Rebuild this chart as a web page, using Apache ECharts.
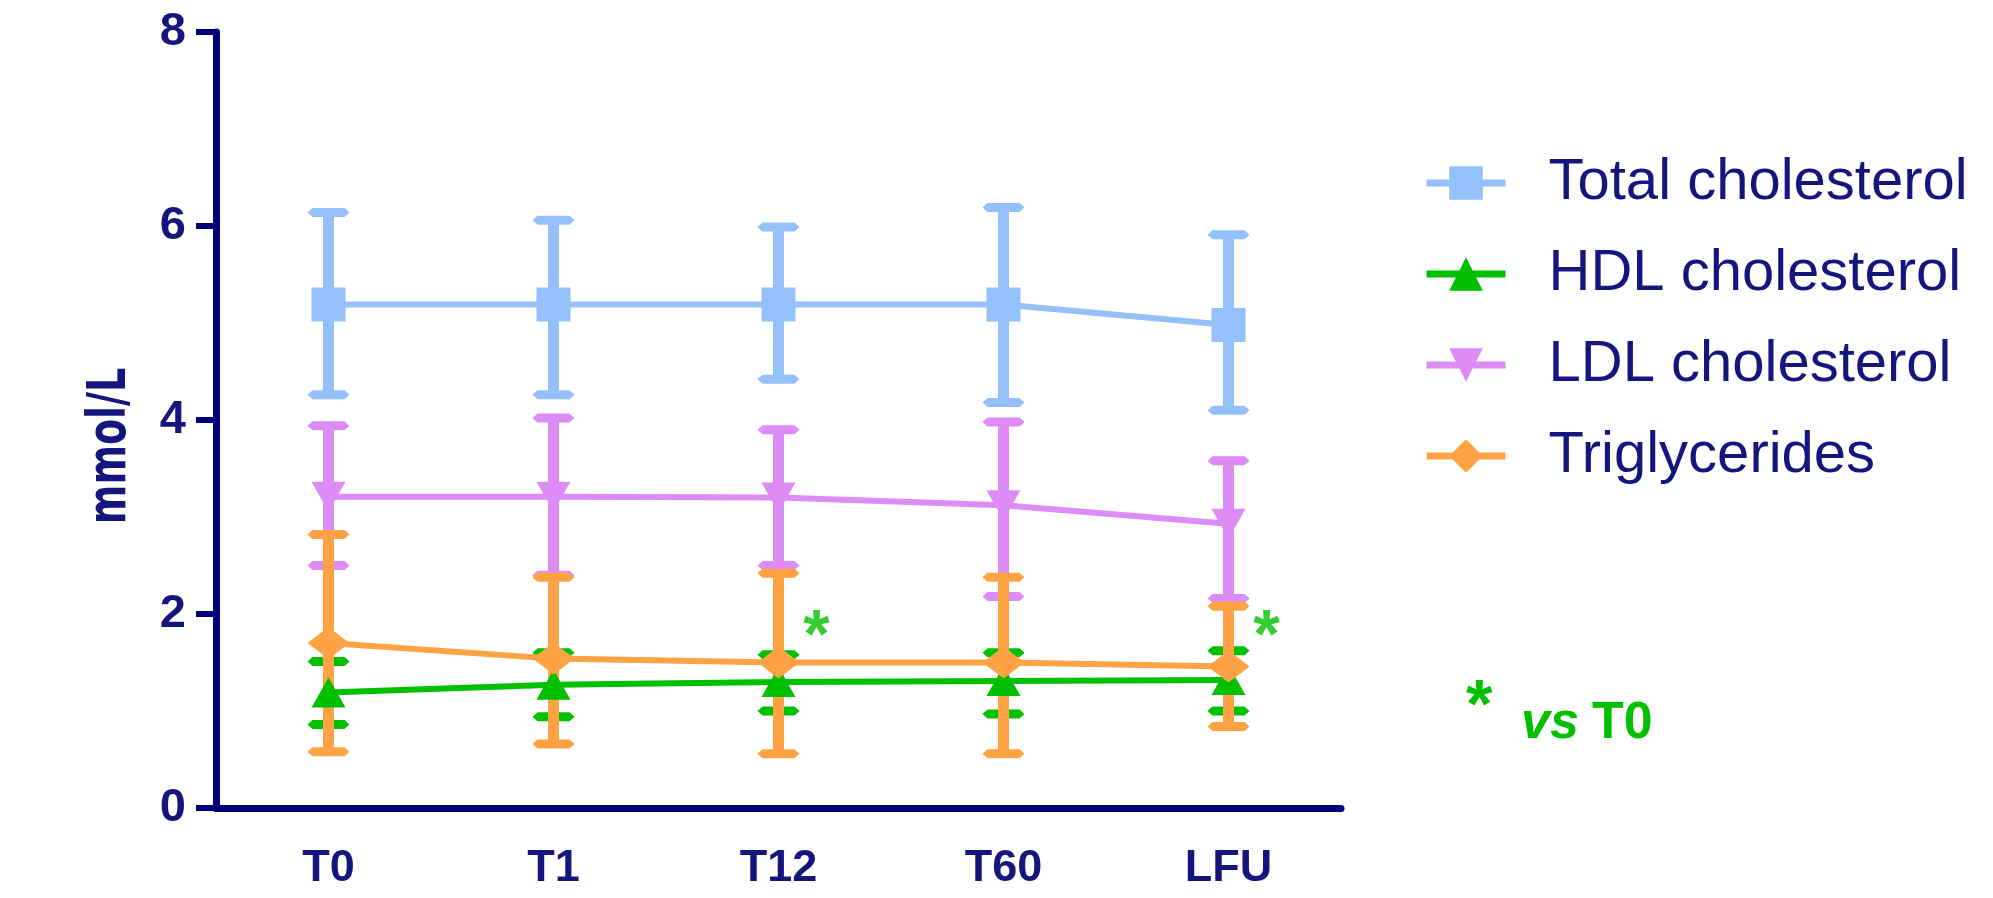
<!DOCTYPE html>
<html>
<head>
<meta charset="utf-8">
<script src="https://cdn.jsdelivr.net/npm/echarts@6/dist/echarts.min.js"></script>
<style>
html,body{margin:0;padding:0;background:#fff;}
#chart{width:1993px;height:898px;}
</style>
</head>
<body>
<div id="chart"></div>
<script>
// ---- data ----
const categories = ['T0', 'T1', 'T12', 'T60', 'LFU'];
const yTicks = [0, 2, 4, 6, 8];

const totalMean  = [5.19, 5.19, 5.19, 5.19, 4.98];
const totalUpper = [6.14, 6.06, 5.99, 6.19, 5.91];
const totalLower = [4.26, 4.26, 4.42, 4.18, 4.10];

const hdlMean  = [1.19, 1.27, 1.30, 1.31, 1.32];
const hdlUpper = [1.51, 1.60, 1.58, 1.60, 1.62];
const hdlLower = [0.86, 0.94, 1.00, 0.97, 1.00];

const ldlMean  = [3.21, 3.21, 3.20, 3.12, 2.93];
const ldlUpper = [3.94, 4.02, 3.90, 3.98, 3.58];
const ldlLower = [2.50, 2.40, 2.50, 2.18, 2.16];

const tgMean  = [1.70, 1.54, 1.50, 1.50, 1.46];
const tgUpper = [2.82, 2.38, 2.42, 2.38, 2.08];
const tgLower = [0.58, 0.66, 0.56, 0.56, 0.84];

const sigCategories = ['T12', 'LFU'];
const sigLevel = 1.92;

const seriesNames = ['Total cholesterol', 'HDL cholesterol', 'LDL cholesterol', 'Triglycerides'];
const yAxisTitle = 'mmol/L';

// ---- styles ----
const NAVY = '#15157e';
const AXIS = '#00007a';
const colors = ['#93c0f8', '#00c000', '#dd8cf5', '#ffa244'];
const SANS = 'Liberation Sans, Arial, sans-serif';

function errRender(color) {
  return function (params, api) {
    const idx = api.value(0);
    const lo = api.coord([idx, api.value(1)]);
    const hi = api.coord([idx, api.value(2)]);
    const cx = hi[0];
    const hw = 21, ht = 4.5;
    const cap = (y) => ({
      type: 'polygon',
      shape: { points: [[cx - hw, y], [cx - hw + 5, y - ht], [cx + hw - 5, y - ht], [cx + hw, y], [cx + hw - 5, y + ht], [cx - hw + 5, y + ht]] },
      style: { fill: color }
    });
    return {
      type: 'group',
      children: [
        { type: 'rect', shape: { x: cx - 5.5, y: hi[1], width: 11, height: lo[1] - hi[1] }, style: { fill: color } },
        cap(hi[1]), cap(lo[1])
      ]
    };
  };
}

function errSeries(name, lower, upper, color) {
  return {
    type: 'custom',
    name: name + ' SD',
    renderItem: errRender(color),
    data: categories.map((c, i) => [i, lower[i], upper[i]]),
    encode: { x: 0, y: [1, 2] },
    silent: true
  };
}

function lineSeries(name, mean, color, symbol, size, rotate) {
  return {
    type: 'line',
    name: name,
    data: mean,
    symbol: symbol,
    symbolSize: size,
    symbolRotate: rotate || 0,
    showSymbol: true,
    lineStyle: { color: color, width: 6 },
    itemStyle: { color: color },
    animation: false
  };
}

const chart = echarts.init(document.getElementById('chart'), null, { renderer: 'canvas' });

chart.setOption({
  animation: false,
  backgroundColor: '#ffffff',
  grid: { left: 216, right: 652, top: 32, bottom: 90, containLabel: false },
  legend: {
    data: seriesNames,
    orient: 'vertical',
    left: 1418,
    top: 149,
    itemWidth: 79,
    itemHeight: 42,
    itemGap: 33,
    selectedMode: false,
    lineStyle: { width: 7 },
    textStyle: {
      fontFamily: SANS,
      fontSize: 58,
      lineHeight: 58,
      color: NAVY,
      padding: [0, 0, 0, 38]
    }
  },
  xAxis: {
    type: 'category',
    data: categories,
    boundaryGap: true,
    axisLine: { lineStyle: { color: AXIS, width: 7 } },
    axisTick: { alignWithLabel: true, length: 20, lineStyle: { color: AXIS, width: 6 } },
    axisLabel: {
      fontFamily: SANS,
      fontWeight: 'bold',
      fontSize: 45,
      color: NAVY,
      margin: 38
    },
    splitLine: { show: false }
  },
  yAxis: {
    type: 'value',
    min: 0,
    max: 8,
    interval: 2,
    axisLine: { show: true, lineStyle: { color: AXIS, width: 7 } },
    axisTick: { show: true, length: 20, lineStyle: { color: AXIS, width: 6 } },
    axisLabel: {
      fontFamily: SANS,
      fontWeight: 'bold',
      fontSize: 47,
      color: NAVY,
      margin: 30,
      formatter: (v) => yTicks.indexOf(v) >= 0 ? String(v) : ''
    },
    splitLine: { show: false }
  },
  series: [
    errSeries(seriesNames[0], totalLower, totalUpper, colors[0]),
    lineSeries(seriesNames[0], totalMean, colors[0], 'rect', 34),
    errSeries(seriesNames[1], hdlLower, hdlUpper, colors[1]),
    lineSeries(seriesNames[1], hdlMean, colors[1], 'triangle', [34, 30]),
    errSeries(seriesNames[2], ldlLower, ldlUpper, colors[2]),
    lineSeries(seriesNames[2], ldlMean, colors[2], 'triangle', [34, 30], 180),
    errSeries(seriesNames[3], tgLower, tgUpper, colors[3]),
    lineSeries(seriesNames[3], tgMean, colors[3], 'diamond', [42, 32]),
    {
      type: 'scatter',
      name: 'significance',
      data: sigCategories.map(c => [c, sigLevel]),
      symbolSize: 1,
      itemStyle: { color: 'rgba(0,0,0,0)' },
      silent: true,
      label: {
        show: true,
        formatter: '*',
        position: 'inside',
        offset: [38, 16],
        fontFamily: SANS,
        fontWeight: 'bold',
        fontSize: 68,
        color: colors[1]
      }
    }
  ],
  graphic: [
    {
      type: 'text',
      x: 111,
      y: 446,
      rotation: Math.PI / 2,
      scaleX: 1,
      scaleY: 1.4,
      style: {
        text: yAxisTitle,
        align: 'center',
        verticalAlign: 'middle',
        fontFamily: 'DejaVu Sans, sans-serif',
        fontWeight: 'bold',
        fontSize: 38,
        fill: NAVY
      }
    },
    {
      type: 'text',
      left: 1466,
      top: 674,
      style: {
        text: '*',
        fontFamily: SANS,
        fontWeight: 'bold',
        fontSize: 68,
        fill: colors[1]
      }
    },
    {
      type: 'text',
      left: 1521,
      top: 698,
      style: {
        text: 'vs',
        fontFamily: SANS,
        fontWeight: 'bold',
        fontStyle: 'italic',
        fontSize: 52,
        fill: colors[1]
      }
    },
    {
      type: 'text',
      left: 1592,
      top: 698,
      style: {
        text: 'T0',
        fontFamily: SANS,
        fontWeight: 'bold',
        fontSize: 52,
        fill: colors[1]
      }
    }
  ]
});
</script>
</body>
</html>
